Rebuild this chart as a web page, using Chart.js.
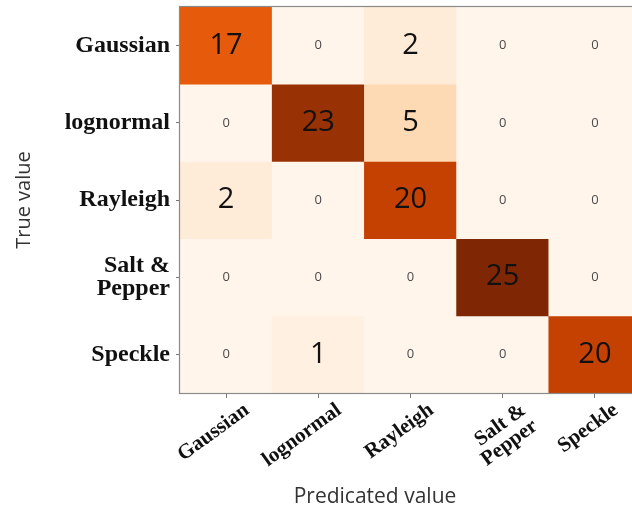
<!DOCTYPE html>
<html><head><meta charset="utf-8">
<script src="https://cdn.jsdelivr.net/npm/chart.js@4.4.0/dist/chart.umd.min.js"></script>
<style>
html,body{margin:0;padding:0;background:#fff;overflow:hidden;width:632px;height:512px}
#wrap{width:645px;height:512px;position:relative}
</style></head>
<body><div id="wrap"><canvas id="c"></canvas></div>
<script>
// ---- data ----
const predictedLabels = ['Gaussian', 'lognormal', 'Rayleigh', ['Salt &', 'Pepper'], 'Speckle'];
const trueLabels = ['Gaussian', 'lognormal', 'Rayleigh', ['Salt &', 'Pepper'], 'Speckle'];
const rowGaussian    = [17, 0, 2, 0, 0];
const rowLognormal   = [0, 23, 5, 0, 0];
const rowRayleigh    = [2, 0, 20, 0, 0];
const rowSaltPepper  = [0, 0, 0, 25, 0];
const rowSpeckle     = [0, 1, 0, 0, 20];
const matrix = [rowGaussian, rowLognormal, rowRayleigh, rowSaltPepper, rowSpeckle];
const xTitle = 'Predicated value';
const yTitle = 'True value';

// ---- colour map (Oranges) ----
const oranges = ['#fff5eb','#fee6ce','#fdd0a2','#fdae6b','#fd8d3c','#f16913','#d94801','#a63603','#7f2704'];
function hex(h){return [1,3,5].map(i=>parseInt(h.substr(i,2),16));}
function cmap(t){
  t = Math.max(0, Math.min(1, t));
  const p = t * (oranges.length - 1);
  const i = Math.min(Math.floor(p), oranges.length - 2);
  const f = p - i;
  const a = hex(oranges[i]), b = hex(oranges[i+1]);
  const c = a.map((v,k)=>Math.round(v + (b[k]-v)*f));
  return 'rgb(' + c.join(',') + ')';
}
const vmax = Math.max(...matrix.flat());

const datasets = matrix.map((row, r) => ({
  label: trueLabels[r].toString(),
  data: row.map((v, c) => ({x: c, y: [r, r + 1], v: v})),
  backgroundColor: ctx => cmap(ctx.raw.v / vmax),
  borderWidth: 0,
  grouped: false,
  barPercentage: 1,
  categoryPercentage: 1
}));

const cellText = {
  id: 'cellText',
  afterDatasetsDraw(chart) {
    const ctx = chart.ctx;
    ctx.save();
    ctx.textAlign = 'center';
    ctx.textBaseline = 'middle';
    chart.data.datasets.forEach((ds, di) => {
      const meta = chart.getDatasetMeta(di);
      meta.data.forEach((el, i) => {
        const v = ds.data[i].v;
        const cy = (el.y + el.base) / 2;
        if (v > 0) {
          ctx.font = '29px "Open Sans"';
          ctx.fillStyle = '#111';
        } else {
          ctx.font = '13px "Open Sans"';
          ctx.fillStyle = '#4a4a4a';
        }
        ctx.fillText(String(v), el.x, cy);
      });
    });
    // frame
    const a = chart.chartArea;
    ctx.strokeStyle = '#8a8a8a';
    ctx.lineWidth = 1.2;
    ctx.strokeRect(a.left - 0.5, a.top - 0.5, a.right - a.left + 1, a.bottom - a.top + 1);
    // x title
    ctx.font = '21px "Open Sans"';
    ctx.fillStyle = '#333';
    ctx.fillText(xTitle, 375, 497);
    ctx.restore();
  }
};

new Chart(document.getElementById('c'), {
  type: 'bar',
  data: {labels: predictedLabels, datasets: datasets},
  options: {
    responsive: true,
    maintainAspectRatio: false,
    animation: false,
    layout: {padding: {left: 0, top: 7, right: 4, bottom: 0}},
    plugins: {legend: {display: false}, tooltip: {enabled: false}},
    scales: {
      x: {
        type: 'category',
        offset: true,
        grid: {display: true, drawOnChartArea: false, drawTicks: true, tickLength: 5, color: '#777', offset: false},
        border: {display: false},
        ticks: {
          autoSkip: false, minRotation: 36, maxRotation: 36, labelOffset: 21, padding: 2,
          color: '#111', font: {family: '"Liberation Serif"', weight: 'bold', size: 21, lineHeight: 0.95}
        },
        afterFit: s => { s.height = 512 - 393; s.paddingLeft = 0; s.paddingRight = 0; }
      },
      y: {
        type: 'linear', min: 0, max: 5, reverse: true,
        afterBuildTicks: s => { s.ticks = trueLabels.map((_, i) => ({value: i + 0.5})); },
        grid: {display: true, drawOnChartArea: false, drawTicks: true, tickLength: 4, color: '#777'},
        border: {display: false},
        ticks: {
          autoSkip: false, padding: 6, color: '#111',
          font: {family: '"Liberation Serif"', weight: 'bold', size: 24, lineHeight: 0.98},
          callback: (v, i) => trueLabels[i]
        },
        title: {display: true, text: yTitle, color: '#333', font: {family: '"Open Sans"', size: 20}, padding: {top: 12, bottom: 0}},
        afterFit: s => { s.width = 180; s.paddingTop = 0; s.paddingBottom = 0; }
      }
    }
  },
  plugins: [cellText]
});
</script>
</body></html>
